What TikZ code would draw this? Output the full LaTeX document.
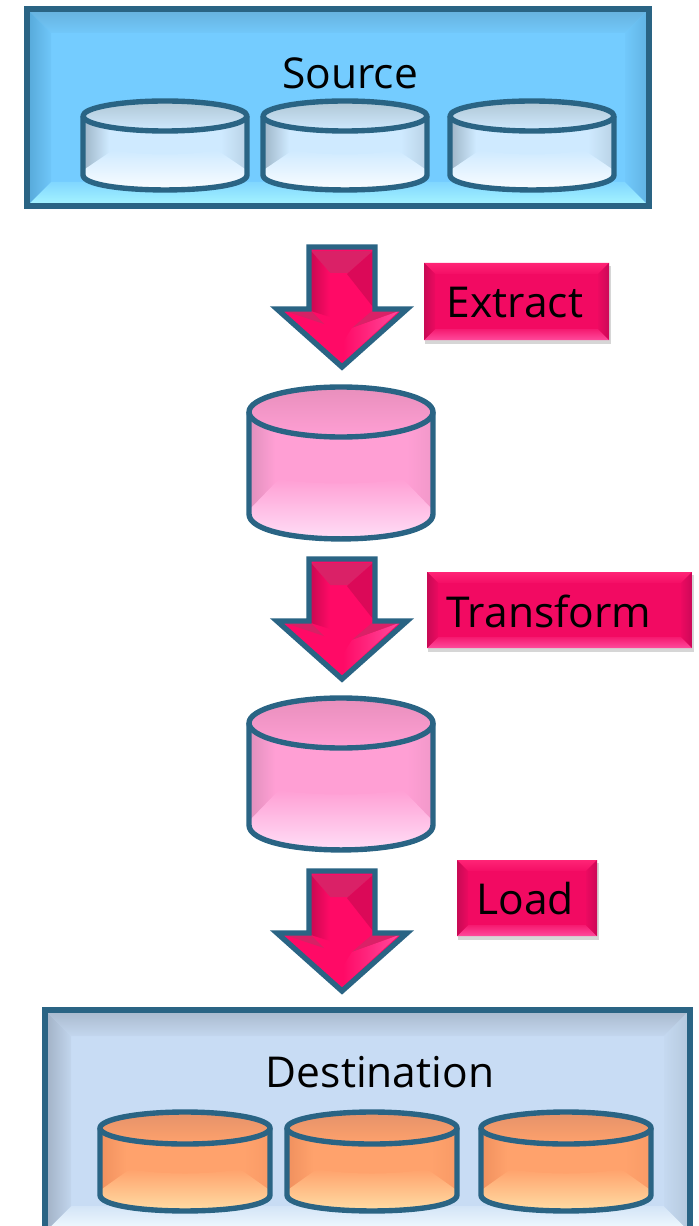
\documentclass[tikz,border=0pt]{standalone}
\usepackage{fontspec}
\setmainfont{Open Sans}
\usepackage{tikz}
\usetikzlibrary{positioning, calc}

\definecolor{edgeblue}{HTML}{2A6484}
\definecolor{srcmid}{HTML}{74CCFF}
\definecolor{srctop}{HTML}{66B0DC}
\definecolor{srcleft}{HTML}{56A8D8}
\definecolor{srcbot}{HTML}{A8F6FF}
\definecolor{srcright}{HTML}{60B2E2}
\definecolor{dstmid}{HTML}{C8DCF4}
\definecolor{dsttop}{HTML}{A8B8CC}
\definecolor{dstleft}{HTML}{A0B0C4}
\definecolor{dstbot}{HTML}{F4FCFF}
\definecolor{dstright}{HTML}{B4C8DC}
\definecolor{tagmid}{HTML}{F20A62}
\definecolor{tagtop}{HTML}{FF2476}
\definecolor{tagleft}{HTML}{C80A55}
\definecolor{tagbot}{HTML}{FF4A9C}
\definecolor{tagright}{HTML}{CC0858}
\definecolor{arrowmid}{HTML}{FF0A66}
\definecolor{paledrum}{HTML}{CFEAFF}
\definecolor{paletop}{HTML}{B0C6D4}
\definecolor{paleside}{HTML}{9DB4C6}
\definecolor{pinkdrum}{HTML}{FF9FD4}
\definecolor{pinktop}{HTML}{E88FBC}
\definecolor{pinkside}{HTML}{E090BC}
\definecolor{pinklight}{HTML}{FFE4FA}
\definecolor{orangedrum}{HTML}{FFA26C}
\definecolor{orangetop}{HTML}{E4926A}
\definecolor{orangeside}{HTML}{F0905E}
\definecolor{orangelight}{HTML}{FFE4AC}

\tikzset{
  titletext/.style={text=black, font=\fontsize{24.2}{30}\selectfont, inner sep=0pt},
  edgeline/.style={draw=edgeblue, line width=5.4pt*0.567, line join=miter},
  drumline/.style={draw=edgeblue, line width=5.4pt*0.567, line join=round}
}

\newcommand{\bevelbox}[6]{
  \fill[#6mid] (#1,#2) rectangle (#3,#4);
  \shade[top color=#6top, bottom color=#6top!15!#6mid] (#1,#2) -- (#3,#2) -- ({#3-#5},{#2+#5}) -- ({#1+#5},{#2+#5}) -- cycle;
  \shade[top color=#6bot!25!#6mid, bottom color=#6bot] (#1,#4) -- (#3,#4) -- ({#3-#5},{#4-#5}) -- ({#1+#5},{#4-#5}) -- cycle;
  \shade[left color=#6left, right color=#6left!15!#6mid] (#1,#2) -- ({#1+#5},{#2+#5}) -- ({#1+#5},{#4-#5}) -- (#1,#4) -- cycle;
  \shade[left color=#6right!15!#6mid, right color=#6right] (#3,#2) -- ({#3-#5},{#2+#5}) -- ({#3-#5},{#4-#5}) -- (#3,#4) -- cycle;
}

% cx, cy of the lid, half width, half lid height, body height, colours
\newcommand{\drum}[8]{
  \begin{scope}
    \clip ({#1-#3},#2) -- ({#1-#3},{#2+#5}) .. controls ({#1-#3},{#2+#5+1.33*#4}) and ({#1+#3},{#2+#5+1.33*#4}) .. ({#1+#3},{#2+#5}) -- ({#1+#3},#2) -- cycle;
    \fill[#6] ({#1-#3},{#2-5}) rectangle ({#1+#3},{#2+#5+#4+5});
    \shade[left color=#7side, right color=#6] ({#1-#3},#2) rectangle ({#1-#3+26},{#2+#5+#4});
    \shade[left color=#6, right color=#7side!45!#6] ({#1+#3-26},#2) rectangle ({#1+#3},{#2+#5+#4});
    \shade[top color=#6, middle color=#8, bottom color=#8] ({#1-#3+2},{#2+#5-6}) -- ({#1-#3+30},{#2+#5-#4-10}) .. controls ({#1-#3+60},{#2+#5-#4-4}) and ({#1+#3-60},{#2+#5-#4-4}) .. ({#1+#3-30},{#2+#5-#4-10}) -- ({#1+#3-2},{#2+#5-6}) -- ({#1+#3},{#2+#5+#4+5}) -- ({#1-#3},{#2+#5+#4+5}) -- cycle;
  \end{scope}
  \draw[drumline] ({#1-#3},#2) -- ({#1-#3},{#2+#5}) .. controls ({#1-#3},{#2+#5+1.33*#4}) and ({#1+#3},{#2+#5+1.33*#4}) .. ({#1+#3},{#2+#5}) -- ({#1+#3},#2);
  \shade[top color=#7top, bottom color=#6, drumline] (#1,#2) ellipse[x radius=#3, y radius=#4];
}

% cx, top of the shaft
\newcommand{\blockarrow}[2]{
  \fill[arrowmid] ({#1-33},#2) -- ({#1+33},#2) -- ({#1+33},{#2+62}) -- ({#1+65},{#2+62}) -- (#1,{#2+120}) -- ({#1-65},{#2+62}) -- ({#1-33},{#2+62}) -- cycle;
  \fill[arrowmid!84!black!90!white] ({#1-31},{#2+4}) -- ({#1+31},{#2+4}) -- ({#1+6},{#2+26}) -- ({#1-12},{#2+26}) -- cycle;
  \shade[left color=arrowmid!80!black, right color=arrowmid] ({#1-31},{#2+4}) -- ({#1-12},{#2+26}) -- ({#1-12},{#2+70}) -- ({#1-31},{#2+64}) -- cycle;
  \fill[arrowmid!86!black] ({#1+31},{#2+4}) -- ({#1+31},{#2+60}) -- ({#1+5},{#2+27}) -- cycle;
  \fill[arrowmid!82!black!90!white] ({#1-57},{#2+64}) -- ({#1-31},{#2+64}) -- ({#1-18},{#2+77}) -- cycle;
  \fill[arrowmid!84!black!90!white] ({#1+31},{#2+63}) -- ({#1+57},{#2+64}) -- ({#1+10},{#2+81}) -- cycle;
  \shade[left color=arrowmid, right color=tagbot] ({#1+57},{#2+64}) -- ({#1+1},{#2+115}) -- ({#1+1},{#2+95}) -- ({#1+10},{#2+81}) -- cycle;
  \draw[edgeline] ({#1-33},#2) -- ({#1+33},#2) -- ({#1+33},{#2+62}) -- ({#1+65},{#2+62}) -- (#1,{#2+120}) -- ({#1-65},{#2+62}) -- ({#1-33},{#2+62}) -- cycle;
}

\newcommand{\tagbox}[4]{
  \fill[black!16] ({#1+1},{#2+3}) rectangle ({#3+2},{#4+4});
  \bevelbox{#1}{#2}{#3}{#4}{11}{tag}
}

\begin{document}
\begin{tikzpicture}[x=0.02cm,y=-0.02cm]
      \useasboundingbox (0,0) rectangle (699,1226);
      %
      \bevelbox{27}{9}{649}{206}{24}{src}
      \draw[edgeline] (27,9) rectangle (649,206);
      \node[titletext] (source) at (350,73) {Source};
      \drum{165}{116}{82}{15}{59}{paledrum}{pale}{white}
      \drum{345}{116}{82}{15}{59}{paledrum}{pale}{white}
      \drum{532}{116}{82}{15}{59}{paledrum}{pale}{white}

      \blockarrow{342}{247}
      \tagbox{424}{263}{609}{340}
      \node[titletext] (extract) at (515,303) {Extract};

      \drum{341}{412}{92}{25}{102}{pinkdrum}{pink}{pinklight}

      \blockarrow{342}{559}
      \tagbox{427}{572}{692}{648}
      \node[titletext] (transform) at (549,611) {Transform};

      \drum{341}{723}{92}{25}{102}{pinkdrum}{pink}{pinklight}

      \blockarrow{342}{871}
      \tagbox{457}{860}{597}{936}
      \node[titletext] (load) at (525,899) {Load};

      \bevelbox{45}{1010}{690}{1232}{26}{dst}
      \draw[edgeline] (45,1010) rectangle (690,1232);
      \node[titletext] (destination) at (380,1072) {Destination};
      \drum{185}{1128}{85}{16}{67}{orangedrum}{orange}{orangelight}
      \drum{372}{1128}{85}{16}{67}{orangedrum}{orange}{orangelight}
      \drum{566}{1128}{85}{16}{67}{orangedrum}{orange}{orangelight}
\end{tikzpicture}
\end{document}
